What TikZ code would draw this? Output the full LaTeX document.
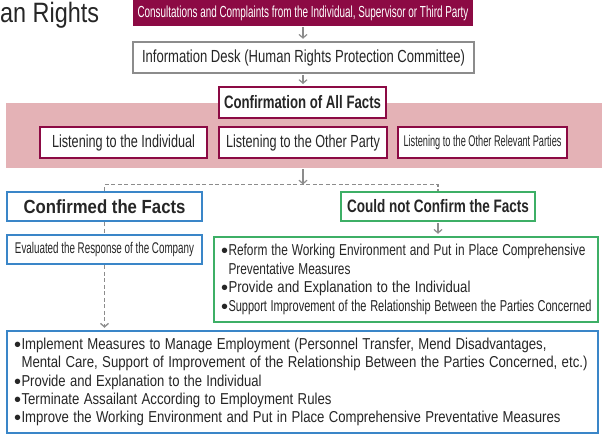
\documentclass[tikz,border=0pt]{standalone}
\usepackage{fontspec}
\setmainfont{Liberation Sans}
\usepackage{graphicx}
\usetikzlibrary{arrows.meta}
\definecolor{wine}{HTML}{8C0A44}
\definecolor{bandpink}{HTML}{E4B2B6}
\definecolor{bluebd}{HTML}{3A86C8}
\definecolor{greenbd}{HTML}{3DAF66}
\definecolor{graybd}{HTML}{8C8C8C}
\definecolor{txt}{HTML}{262626}
\newsavebox\fwbox
\newcommand\fitw[2]{\sbox\fwbox{#2}\pgfmathsetmacro\fwr{#1/\the\wd\fwbox}\scalebox{\fwr}[1]{\usebox\fwbox}}
\newcommand\bul{\makebox[6.5pt][l]{\hspace*{-0.8pt}\smash{\raisebox{-2pt}{\fontsize{20}{20}\selectfont •}}}}
\tikzset{
  box/.style={draw, line width=2pt, fill=white, inner sep=0pt, text=txt},
  wbox/.style={box, draw=wine},
  gybox/.style={box, draw=graybd, line width=2.5pt},
  bbox/.style={box, draw=bluebd, line width=2.5pt},
  grbox/.style={box, draw=greenbd, line width=2.5pt},
  listtext/.style={align=left, inner xsep=8pt, font=\fontsize{15.8}{18.4}\selectfont},
  arr/.style={draw=graybd, line width=1.2pt, -{Straight Barb[length=3.5pt,width=8pt]}},
  dsh/.style={draw=graybd, line width=1.3pt, dash pattern=on 4pt off 2.5pt},
}
\begin{document}
\begin{tikzpicture}[x=1pt,y=-1pt]
\path[use as bounding box] (0,0) rectangle (602,434);
% title fragment
\node[anchor=base west, inner sep=0pt, text=txt, font=\fontsize{28}{30}\selectfont] (title) at (0,22) {\fitw{99}{an Rights}};
% top box
\node[fill=wine, text=white, inner sep=0pt, minimum width=340pt, minimum height=26pt, font=\fontsize{16}{18}\selectfont] (top) at (303,13) {\fitw{331}{Consultations and Complaints from the Individual, Supervisor or Third Party}};
\node[gybox, minimum width=341pt, minimum height=31pt, font=\fontsize{17.5}{20}\selectfont] (info) at (303.5,57.5) {\fitw{323}{Information Desk (Human Rights Protection Committee)}};
% band
\node[fill=bandpink, inner sep=0pt, minimum width=596pt, minimum height=65pt] (band) at (304,135.5) {};
\node[wbox, minimum width=167pt, minimum height=31pt, font=\fontsize{18}{20}\selectfont\bfseries] (conf) at (302.5,102.5) {\fitw{157}{Confirmation of All Facts}};
\node[wbox, minimum width=167pt, minimum height=31pt, font=\fontsize{17.5}{20}\selectfont] (l1) at (123.5,142.5) {\fitw{143}{Listening to the Individual}};
\node[wbox, minimum width=168pt, minimum height=31pt, font=\fontsize{17.5}{20}\selectfont] (l2) at (303,142.5) {\fitw{154}{Listening to the Other Party}};
\node[wbox, minimum width=169pt, minimum height=31pt, font=\fontsize{15.5}{18}\selectfont] (l3) at (482.5,142.5) {\fitw{158}{Listening to the Other Relevant Parties}};
% outcome boxes
\node[bbox, minimum width=195pt, minimum height=29pt, font=\fontsize{19}{21}\selectfont\bfseries] (confd) at (104.5,206.5) {\fitw{162}{Confirmed the Facts}};
\node[bbox, minimum width=195pt, minimum height=29pt, font=\fontsize{15.5}{18}\selectfont] (evald) at (104.5,249.5) {\fitw{179}{Evaluated the Response of the Company}};
\node[grbox, minimum width=194pt, minimum height=29pt, font=\fontsize{18}{20}\selectfont\bfseries] (notc) at (438,206.5) {\fitw{182}{Could not Confirm the Facts}};
\node[grbox, listtext, text width=368pt, minimum height=85pt] (green) at (406,279.5) {%
\bul\fitw{357}{Reform the Working Environment and Put in Place Comprehensive}\\
\hspace*{6.5pt}\fitw{122}{Preventative Measures}\\
\bul\fitw{242}{Provide and Explanation to the Individual}\\
\bul\fitw{363}{Support Improvement of the Relationship Between the Parties Concerned}};
\node[bbox, listtext, text width=575pt, minimum height=102pt] (blue) at (302.5,382) {%
\bul\fitw{525}{Implement Measures to Manage Employment (Personnel Transfer, Mend Disadvantages,}\\
\hspace*{6.5pt}\fitw{566}{Mental Care, Support of Improvement of the Relationship Between the Parties Concerned, etc.)}\\
\bul\fitw{240}{Provide and Explanation to the Individual}\\
\bul\fitw{310}{Terminate Assailant According to Employment Rules}\\
\bul\fitw{539}{Improve the Working Environment and Put in Place Comprehensive Preventative Measures}};
% connectors
\coordinate (split) at (303,184.5);
\draw[arr, shorten <=1pt, shorten >=2pt] (top.south -| split) -- (info.north -| split);
\draw[arr, shorten <=1pt, shorten >=2pt] (info.south -| split) -- (conf.north -| split);
\draw[arr, shorten <=1pt] (band.south -| split) -- (split);
\draw[dsh] (confd.north) |- (split) -| (notc.north);
\draw[dsh] (confd.south) -- (evald.north);
\draw[dsh, -{Straight Barb[length=3.5pt,width=8pt]}, shorten >=2pt] (evald.south) -- (blue.north -| evald.south);
\draw[arr, shorten <=1pt, shorten >=2pt] (notc.south) -- (green.north -| notc.south);
\end{tikzpicture}
\end{document}
